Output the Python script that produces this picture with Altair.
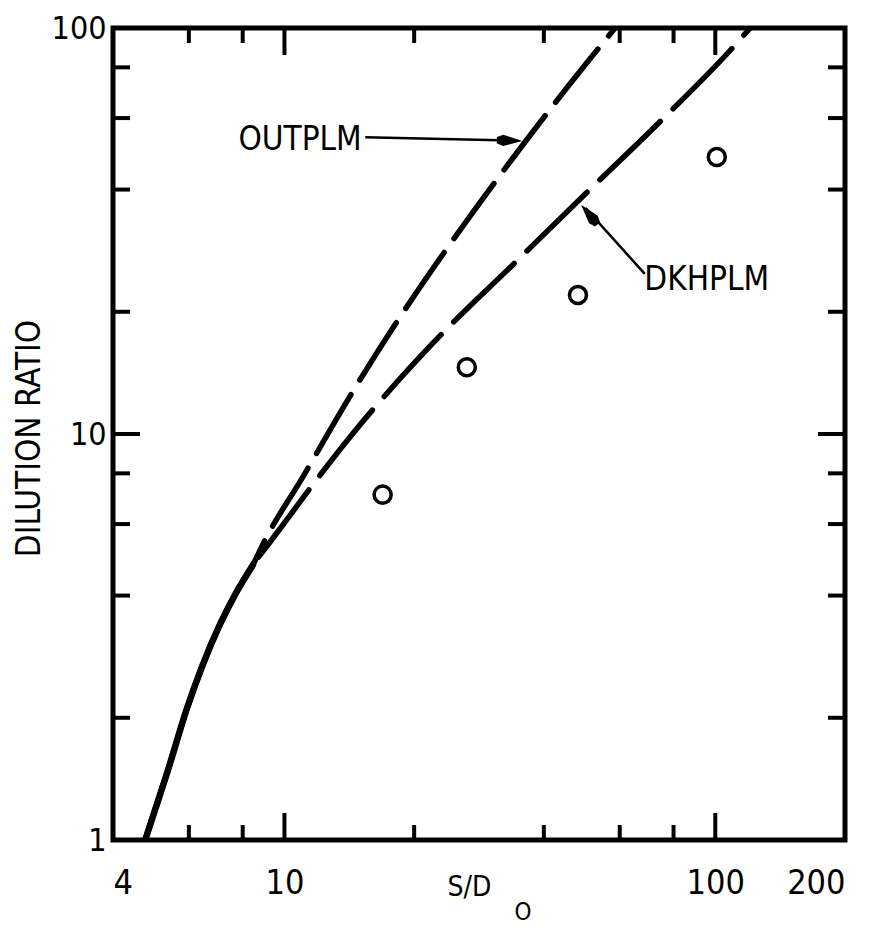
import altair as alt
import pandas as pd

# ---- data ----
common_x = [4.75, 5.38, 5.94, 6.47, 7.08, 7.75, 8.45]
common_y = [1.0, 1.50, 2.11, 2.71, 3.39, 4.09, 4.76]

outplm_x = [8.95, 11.0, 14.2, 18.0, 24.2, 31.1, 40.9, 58.5]
outplm_y = [5.40, 7.8, 12.4, 18.5, 29.3, 42.3, 62.1, 100.0]

dkhplm_x = [9.26, 14.4, 22.3, 34.0, 52.0, 73.7, 108.1, 120.5]
dkhplm_y = [5.42, 10.02, 16.9, 26.2, 40.7, 58.2, 87.9, 100.0]

obs_x = [16.9, 26.5, 48.0, 100.8]
obs_y = [7.09, 14.6, 22.0, 48.1]

x_tick_labels = [4, 10, 100, 200]
y_tick_labels = [1, 10, 100]
x_minor = [6, 8, 20, 40, 60, 80]
x_major = [10, 100]
y_minor = [2, 4, 6, 8, 20, 40, 60, 80]
y_major = [10]

label_text = ["OUTPLM", "DKHPLM"]
label_x = [10.87, 95.5]
label_y = [52.9, 23.9]

arrow_x = [15.4, 68.6]
arrow_y = [53.8, 24.8]
arrow_x2 = [34.0, 50.0]
arrow_y2 = [52.8, 36.0]
head_x = [33.3, 51.0]
head_y = [52.8, 34.7]
head_angle = [92, 320]

# ---- tables ----
rows = []
for m, xs_, ys_ in [("OUTPLM", common_x + outplm_x, common_y + outplm_y),
                    ("DKHPLM", common_x + dkhplm_x, common_y + dkhplm_y)]:
    for i, (a, b) in enumerate(zip(xs_, ys_)):
        rows.append({"x": a, "y": b, "model": m, "order": i})
curves = pd.DataFrame(rows)
obs = pd.DataFrame({"x": obs_x, "y": obs_y})
labels = pd.DataFrame({"x": label_x, "y": label_y, "text": label_text})
arrows = pd.DataFrame({"x": arrow_x, "y": arrow_y, "x2": arrow_x2, "y2": arrow_y2})
heads = pd.DataFrame({"x": head_x, "y": head_y, "ang": head_angle})
xmin = pd.DataFrame({"x": x_minor})
xmaj = pd.DataFrame({"x": x_major})
ymin = pd.DataFrame({"y": y_minor})
ymaj = pd.DataFrame({"y": y_major})

W, H = 732, 812
FONT = "Liberation Sans Narrow, DejaVu Sans Condensed, Roboto"

xs = alt.Scale(type="log", domain=[4, 200], nice=False)
ys = alt.Scale(type="log", domain=[1, 100], nice=False)

x_axis = alt.Axis(values=x_tick_labels, format="d", labelFlush=True, tickSize=0,
                  domain=False, grid=False, labelFontSize=34, labelFont=FONT,
                  labelColor="black", labelPadding=43, labelBaseline="middle",
                  title="S/D", titleFont=FONT, titleFontSize=28, titleFontWeight="normal",
                  titleColor="black", titleX=356, titleY=47, titleAlign="center",
                  titleBaseline="middle")
y_axis = alt.Axis(values=y_tick_labels, format="d", tickSize=0, domain=False, grid=False,
                  labelFontSize=32, labelFont=FONT, labelColor="black", labelPadding=7,
                  labelBaseline="middle", title="DILUTION RATIO", titleFont=FONT,
                  titleFontSize=33, titleFontWeight="normal", titleColor="black",
                  titleX=-84, titleY=410, titleAngle=-90, titleAlign="center",
                  titleBaseline="middle")


def X(field="x"):
    return alt.X(f"{field}:Q", scale=xs, axis=x_axis)


def Y(field="y"):
    return alt.Y(f"{field}:Q", scale=ys, axis=y_axis)


base_line = alt.Chart(curves).encode(x=X(), y=Y(), order="order:Q")

upper = base_line.transform_filter(alt.datum.model == "OUTPLM").mark_line(
    color="black", strokeWidth=5.5, strokeDash=[68, 17], strokeCap="round",
    interpolate="monotone", clip=True)
lower = base_line.transform_filter(alt.datum.model == "DKHPLM").mark_line(
    color="black", strokeWidth=5.5, strokeDash=[84, 18], strokeCap="round",
    interpolate="monotone", clip=True)
solid = base_line.transform_filter(
    (alt.datum.model == "DKHPLM") & (alt.datum.x <= 8.5)).mark_line(
    color="black", strokeWidth=6.5, strokeCap="round", interpolate="monotone", clip=True)

pts = alt.Chart(obs).mark_point(shape="circle", size=290, filled=False, color="black",
                                strokeWidth=3.5, opacity=1).encode(x=X(), y=Y())

txt = alt.Chart(labels).mark_text(font=FONT, fontSize=33, color="black", align="center",
                                  baseline="middle").encode(x=X(), y=Y(), text="text:N")

arr = alt.Chart(arrows).mark_rule(color="black", strokeWidth=2.5).encode(
    x=X(), y=Y(), x2="x2:Q", y2="y2:Q")

hd = alt.Chart(heads).mark_point(shape="M0,-1L0.45,0.5L0.25,1L-0.25,1L-0.45,0.5Z",
                                 size=650, filled=True, color="black", opacity=1).encode(
    x=X(), y=Y(), angle=alt.Angle("ang:Q", scale=None))

TW = 4
MIN_L, MAJ_L = 15, 27
xt_bot_min = alt.Chart(xmin).mark_rule(color="black", strokeWidth=TW).encode(
    x=X(), y=alt.value(H), y2=alt.value(H - MIN_L))
xt_top_min = alt.Chart(xmin).mark_rule(color="black", strokeWidth=TW).encode(
    x=X(), y=alt.value(0), y2=alt.value(MIN_L))
xt_bot_maj = alt.Chart(xmaj).mark_rule(color="black", strokeWidth=TW).encode(
    x=X(), y=alt.value(H), y2=alt.value(H - MAJ_L))
xt_top_maj = alt.Chart(xmaj).mark_rule(color="black", strokeWidth=TW).encode(
    x=X(), y=alt.value(0), y2=alt.value(MAJ_L))
yt_l_min = alt.Chart(ymin).mark_rule(color="black", strokeWidth=TW).encode(
    y=Y(), x=alt.value(0), x2=alt.value(MIN_L + 2))
yt_r_min = alt.Chart(ymin).mark_rule(color="black", strokeWidth=TW).encode(
    y=Y(), x=alt.value(W), x2=alt.value(W - MIN_L - 2))
yt_l_maj = alt.Chart(ymaj).mark_rule(color="black", strokeWidth=TW).encode(
    y=Y(), x=alt.value(0), x2=alt.value(MAJ_L))
yt_r_maj = alt.Chart(ymaj).mark_rule(color="black", strokeWidth=TW).encode(
    y=Y(), x=alt.value(W), x2=alt.value(W - MAJ_L))

sub = alt.Chart(pd.DataFrame({"t": ["O"]})).mark_text(
    font=FONT, fontSize=24, color="black", align="center",
    baseline="middle").encode(x=alt.value(410), y=alt.value(885), text="t:N")

chart = alt.layer(
    upper, lower, solid, pts, txt, arr, hd,
    xt_bot_min, xt_top_min, xt_bot_maj, xt_top_maj,
    yt_l_min, yt_r_min, yt_l_maj, yt_r_maj, sub,
).properties(
    width=W, height=H,
    background="white",
    autosize=alt.AutoSizeParams(type="none"),
    padding={"left": 105, "top": 20, "right": 16, "bottom": 92},
).configure_view(stroke="black", strokeWidth=5)

chart.save("out.html", embed_options={"renderer": "svg", "actions": False})
